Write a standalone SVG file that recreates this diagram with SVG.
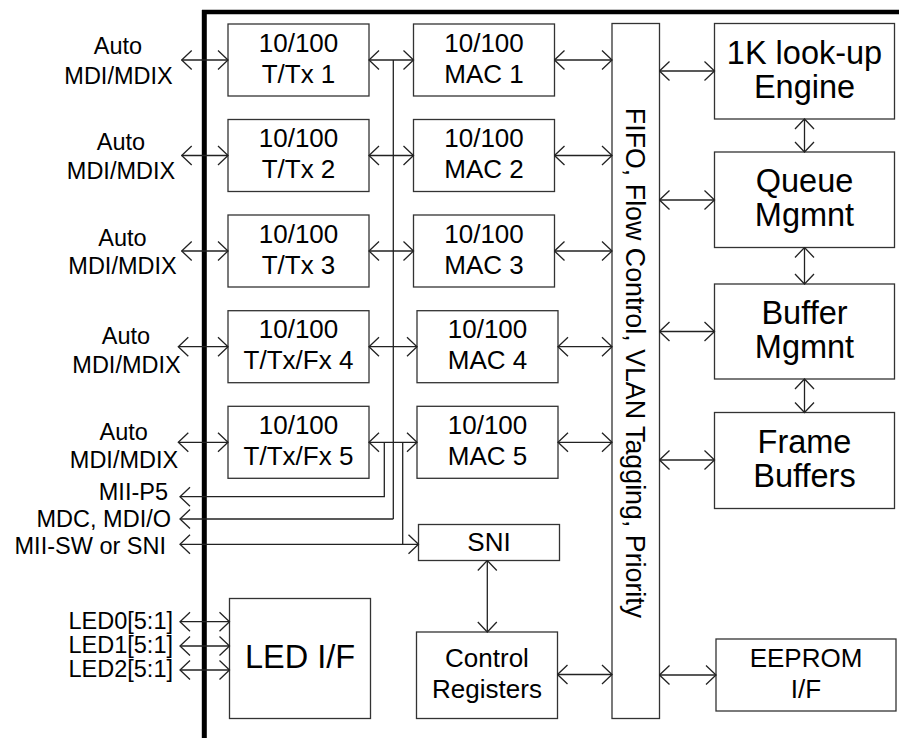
<svg xmlns="http://www.w3.org/2000/svg" width="899" height="738" viewBox="0 0 899 738">
<style>
text{font-family:"Liberation Sans",Arial,sans-serif;fill:#000}
.lbl{font-size:23.5px}
.bx{font-size:26px;text-anchor:middle}
.big{font-size:32.5px;text-anchor:middle}
.c{text-anchor:middle}
.e{text-anchor:end}
rect{fill:#fff;stroke:#333;stroke-width:1.3}
.cn line,.cn polyline{stroke:#222;stroke-width:1.3;fill:none}
.b{marker-start:url(#ah);marker-end:url(#ah)}
.s{marker-end:url(#ah)}
</style>
<defs>
<marker id="ah" markerUnits="userSpaceOnUse" viewBox="-12 -11 13 22" refX="0" refY="0" markerWidth="13" markerHeight="22" orient="auto-start-reverse">
<path d="M-10,-9.5 L0,0 L-10,9.5" fill="none" stroke="#222" stroke-width="1.3"/>
</marker>
</defs>
<rect width="899" height="738" style="fill:#fff;stroke:none"/>
<g id="frame">
<line x1="204.3" y1="10" x2="204.3" y2="738" stroke="#000" stroke-width="5"/>
<line x1="202" y1="12" x2="899" y2="12" stroke="#000" stroke-width="4.5"/>
</g>
<g id="labels">
<text class="lbl c" x="118" y="54.3">Auto</text>
<text class="lbl c" x="118.5" y="84">MDI/MDIX</text>
<text class="lbl c" x="121" y="150">Auto</text>
<text class="lbl c" x="121" y="179">MDI/MDIX</text>
<text class="lbl c" x="122.5" y="245.7">Auto</text>
<text class="lbl c" x="122.5" y="274">MDI/MDIX</text>
<text class="lbl c" x="126" y="344">Auto</text>
<text class="lbl c" x="126.5" y="373">MDI/MDIX</text>
<text class="lbl c" x="123.7" y="440">Auto</text>
<text class="lbl c" x="124" y="468.3">MDI/MDIX</text>
<text class="lbl e" x="168" y="500">MII-P5</text>
<text class="lbl e" x="171" y="526.7">MDC, MDI/O</text>
<text class="lbl e" x="166" y="554">MII-SW or SNI</text>
<text class="lbl e" x="173" y="629">LED0[5:1]</text>
<text class="lbl e" x="173" y="653">LED1[5:1]</text>
<text class="lbl e" x="173" y="677">LED2[5:1]</text>
</g>
<g id="phy1"><rect x="228" y="24" width="141" height="72"/><text class="bx" x="298.5" y="51.5">10/100</text><text class="bx" x="298.5" y="82.5">T/Tx 1</text></g>
<g id="phy2"><rect x="228" y="119.5" width="141" height="72"/><text class="bx" x="298.5" y="147">10/100</text><text class="bx" x="298.5" y="178">T/Tx 2</text></g>
<g id="phy3"><rect x="228" y="215" width="141" height="72"/><text class="bx" x="298.5" y="242.5">10/100</text><text class="bx" x="298.5" y="273.5">T/Tx 3</text></g>
<g id="phy4"><rect x="228" y="310.7" width="141" height="72"/><text class="bx" x="298.5" y="338.2">10/100</text><text class="bx" x="298.5" y="369.2">T/Tx/Fx 4</text></g>
<g id="phy5"><rect x="228" y="406.3" width="141" height="72"/><text class="bx" x="298.5" y="433.8">10/100</text><text class="bx" x="298.5" y="464.8">T/Tx/Fx 5</text></g>
<g id="mac1"><rect x="413.5" y="24" width="141" height="72"/><text class="bx" x="484" y="51.5">10/100</text><text class="bx" x="484" y="82.5">MAC 1</text></g>
<g id="mac2"><rect x="413.5" y="119.5" width="141" height="72"/><text class="bx" x="484" y="147">10/100</text><text class="bx" x="484" y="178">MAC 2</text></g>
<g id="mac3"><rect x="413.5" y="215" width="141" height="72"/><text class="bx" x="484" y="242.5">10/100</text><text class="bx" x="484" y="273.5">MAC 3</text></g>
<g id="mac4"><rect x="417" y="310.7" width="141" height="72"/><text class="bx" x="487.5" y="338.2">10/100</text><text class="bx" x="487.5" y="369.2">MAC 4</text></g>
<g id="mac5"><rect x="417" y="406.3" width="141" height="72"/><text class="bx" x="487.5" y="433.8">10/100</text><text class="bx" x="487.5" y="464.8">MAC 5</text></g>
<g id="sni"><rect x="418.5" y="524.5" width="141" height="36"/><text class="bx" x="489" y="550.7">SNI</text></g>
<g id="ctrl"><rect x="416.5" y="632" width="141" height="86.5"/><text class="bx" x="487" y="666.7">Control</text><text class="bx" x="487" y="698.3">Registers</text></g>
<g id="led"><rect x="229.5" y="598.5" width="141" height="120"/><text class="big" x="300" y="668.3">LED I/F</text></g>
<g id="fifo"><rect x="612" y="23.5" width="47.5" height="695"/><text class="bx" style="font-size:26.8px" transform="translate(625.5,363) rotate(90)">FIFO, Flow Control, VLAN Tagging, Priority</text></g>
<g id="lookup"><rect x="714.5" y="23.5" width="180" height="95.5"/><text class="big" x="804.5" y="63.5">1K look-up</text><text class="big" x="804.5" y="97.5">Engine</text></g>
<g id="queue"><rect x="714.5" y="152" width="180" height="95.5"/><text class="big" x="804.5" y="192.2">Queue</text><text class="big" x="804.5" y="226.2">Mgmnt</text></g>
<g id="buffer"><rect x="714.5" y="284" width="180" height="95"/><text class="big" x="804.5" y="323.5">Buffer</text><text class="big" x="804.5" y="357.5">Mgmnt</text></g>
<g id="frameb"><rect x="714.5" y="412.5" width="180" height="96"/><text class="big" x="804.5" y="452.8">Frame</text><text class="big" x="804.5" y="486.8">Buffers</text></g>
<g id="eeprom"><rect x="716" y="639" width="180" height="72"/><text class="bx" x="806" y="666.7">EEPROM</text><text class="bx" x="806" y="698.3">I/F</text></g>
<g id="connectors" class="cn">
<line class="b" x1="181.7" y1="60" x2="228" y2="60"/>
<line class="b" x1="181.7" y1="155.5" x2="228" y2="155.5"/>
<line class="b" x1="181.7" y1="251" x2="228" y2="251"/>
<line class="b" x1="178.3" y1="346.7" x2="228" y2="346.7"/>
<line class="b" x1="178.3" y1="442.3" x2="228" y2="442.3"/>
<line class="b" x1="369" y1="60" x2="413.5" y2="60"/>
<line class="b" x1="369" y1="155.5" x2="413.5" y2="155.5"/>
<line class="b" x1="369" y1="251" x2="413.5" y2="251"/>
<line class="b" x1="369" y1="346.7" x2="417" y2="346.7"/>
<line class="b" x1="369" y1="442.3" x2="417" y2="442.3"/>
<line class="b" x1="554.5" y1="60" x2="612" y2="60"/>
<line class="b" x1="554.5" y1="155.5" x2="612" y2="155.5"/>
<line class="b" x1="554.5" y1="251" x2="612" y2="251"/>
<line class="b" x1="558" y1="346.7" x2="612" y2="346.7"/>
<line class="b" x1="558" y1="442.3" x2="612" y2="442.3"/>
<line x1="393.3" y1="60" x2="393.3" y2="519"/>
<line class="s" x1="393.3" y1="519" x2="180" y2="519"/>
<polyline class="s" points="384.3,442.3 384.3,496.7 180,496.7"/>
<line x1="402.7" y1="442.3" x2="402.7" y2="544.3"/>
<line class="b" x1="180" y1="544.3" x2="418.5" y2="544.3"/>
<line class="b" x1="487.3" y1="560.5" x2="487.3" y2="632"/>
<line class="b" x1="557.5" y1="674.5" x2="612" y2="674.5"/>
<line class="b" x1="659.5" y1="71" x2="714.5" y2="71"/>
<line class="b" x1="659.5" y1="200" x2="714.5" y2="200"/>
<line class="b" x1="659.5" y1="331.5" x2="714.5" y2="331.5"/>
<line class="b" x1="659.5" y1="460" x2="714.5" y2="460"/>
<line class="b" x1="659.5" y1="675" x2="716" y2="675"/>
<line class="b" x1="804.5" y1="119" x2="804.5" y2="152"/>
<line class="b" x1="804.5" y1="247.5" x2="804.5" y2="284"/>
<line class="b" x1="804.5" y1="379" x2="804.5" y2="412.5"/>
<line class="b" x1="180" y1="621.7" x2="229.5" y2="621.7"/>
<line class="b" x1="180" y1="646" x2="229.5" y2="646"/>
<line class="b" x1="180" y1="670" x2="229.5" y2="670"/>
</g>
</svg>
